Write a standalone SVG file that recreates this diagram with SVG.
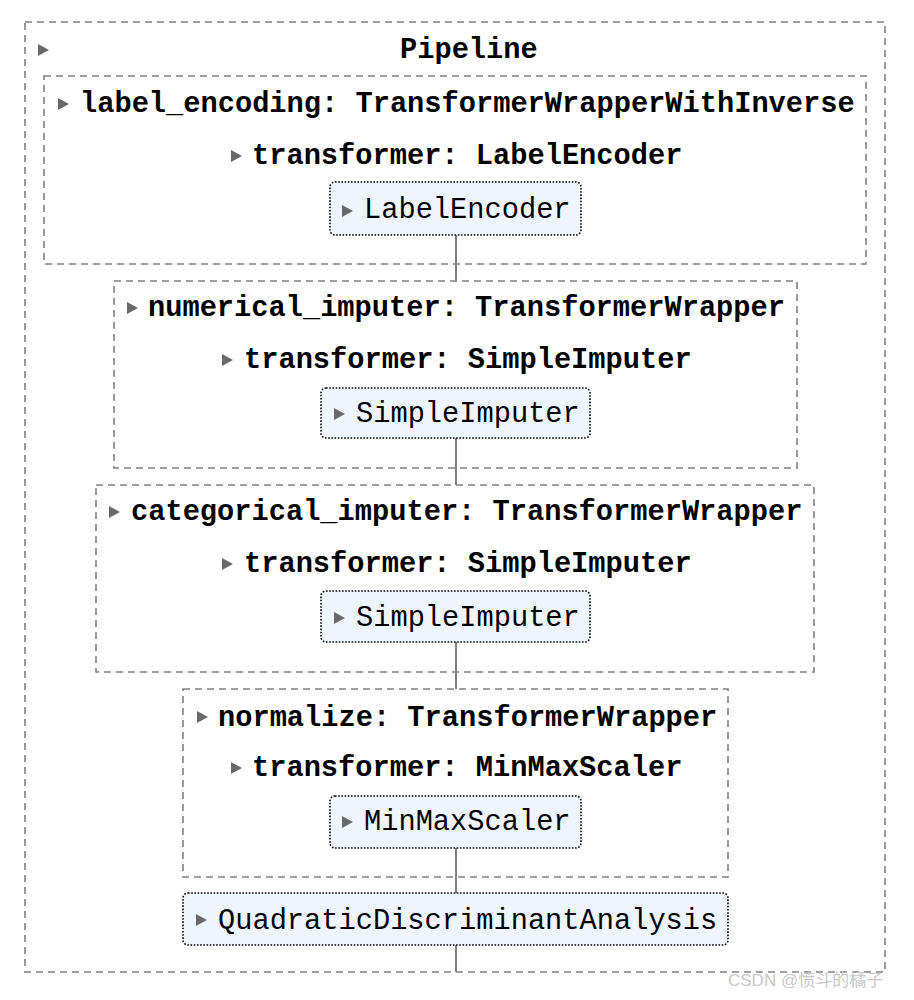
<svg xmlns="http://www.w3.org/2000/svg" width="914" height="1000" viewBox="0 0 914 1000">
<style>
.bg{fill:#ffffff}
.dash{fill:none;stroke:#808080;stroke-width:1.6;stroke-dasharray:7 5}
.est{fill:#eef5ff;stroke:#000000;stroke-width:1.6;stroke-dasharray:1.6 1.6}
.t{font-family:"Liberation Mono","Courier New",monospace;font-size:28.7px;fill:#000000}
.b{font-weight:bold}
.tri{fill:#696969}
.conn line{stroke:#808080;stroke-width:2}
.wm{font-family:"Liberation Sans","Noto Sans CJK SC",sans-serif;font-size:17px;fill:#c8c8c8}
</style>
<rect class="bg" x="0" y="0" width="914" height="1000"/>
<g id="connectors" class="conn">
<line x1="456" y1="235" x2="456" y2="281"/>
<line x1="456" y1="438" x2="456" y2="485"/>
<line x1="456" y1="642" x2="456" y2="689"/>
<line x1="456" y1="848" x2="456" y2="893"/>
<line x1="456" y1="945" x2="456" y2="972"/>
</g>
<g id="pipeline">
<rect class="dash" x="25" y="22" width="860" height="950"/>
<polygon class="tri" points="38,44 49,50 38,56"/>
<text class="t b" x="400" y="58">Pipeline</text>
</g>
<g id="label_encoding">
<rect class="dash" x="44" y="76" width="822" height="188"/>
<polygon class="tri" points="58,98 69,104 58,110"/>
<text class="t b" x="80" y="112">label_encoding: TransformerWrapperWithInverse</text>
<polygon class="tri" points="231,150 242,156 231,162"/>
<text class="t b" x="252" y="164">transformer: LabelEncoder</text>
</g>
<g id="label_encoder">
<rect class="est" x="330" y="182" width="251" height="53" rx="5"/>
<polygon class="tri" points="342,205 353,211 342,217"/>
<text class="t" x="364" y="218">LabelEncoder</text>
</g>
<g id="numerical_imputer">
<rect class="dash" x="114" y="281" width="683" height="187"/>
<polygon class="tri" points="127,302 138,308 127,314"/>
<text class="t b" x="148" y="316">numerical_imputer: TransformerWrapper</text>
<polygon class="tri" points="222,354 233,360 222,366"/>
<text class="t b" x="244" y="368">transformer: SimpleImputer</text>
</g>
<g id="simple_imputer_1">
<rect class="est" x="321" y="388" width="269" height="50" rx="5"/>
<polygon class="tri" points="334,408 345,414 334,420"/>
<text class="t" x="356" y="422">SimpleImputer</text>
</g>
<g id="categorical_imputer">
<rect class="dash" x="96" y="485" width="718" height="187"/>
<polygon class="tri" points="109,506 120,512 109,518"/>
<text class="t b" x="131" y="520">categorical_imputer: TransformerWrapper</text>
<polygon class="tri" points="222,558 233,564 222,570"/>
<text class="t b" x="244" y="572">transformer: SimpleImputer</text>
</g>
<g id="simple_imputer_2">
<rect class="est" x="321" y="591" width="269" height="51" rx="5"/>
<polygon class="tri" points="334,612 345,618 334,624"/>
<text class="t" x="356" y="626">SimpleImputer</text>
</g>
<g id="normalize">
<rect class="dash" x="183" y="689" width="545" height="188"/>
<polygon class="tri" points="197,711 208,717 197,723"/>
<text class="t b" x="218" y="726">normalize: TransformerWrapper</text>
<polygon class="tri" points="231,762 242,768 231,774"/>
<text class="t b" x="252" y="776">transformer: MinMaxScaler</text>
</g>
<g id="minmax_scaler">
<rect class="est" x="330" y="796" width="251" height="52" rx="5"/>
<polygon class="tri" points="342,816 353,822 342,828"/>
<text class="t" x="364" y="830">MinMaxScaler</text>
</g>
<g id="qda">
<rect class="est" x="183" y="893" width="545" height="52" rx="5"/>
<polygon class="tri" points="196,914 207,920 196,926"/>
<text class="t" x="218" y="929">QuadraticDiscriminantAnalysis</text>
</g>
<text class="wm" x="728" y="986">CSDN @愤斗的橘子</text>
</svg>
